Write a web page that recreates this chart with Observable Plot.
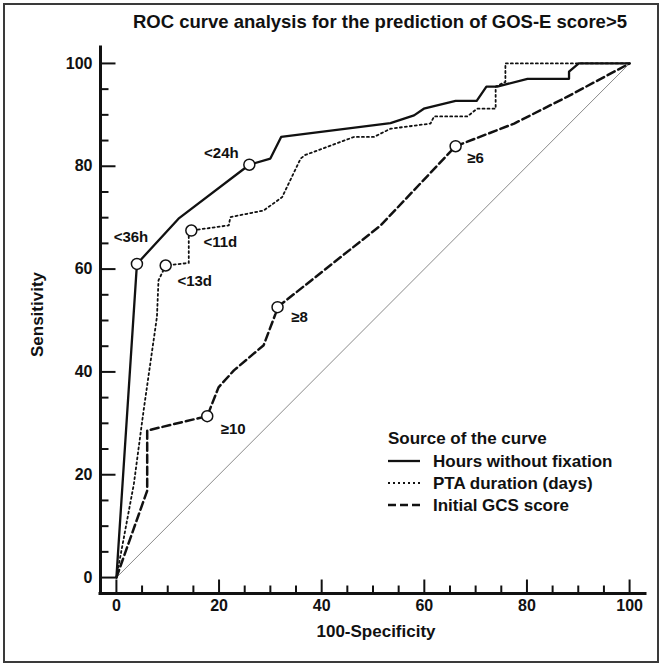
<!DOCTYPE html>
<html>
<head>
<meta charset="utf-8">
<script src="https://cdn.jsdelivr.net/npm/d3@7"></script>
<script src="https://cdn.jsdelivr.net/npm/@observablehq/plot@0.6"></script>
<style>
  html, body { margin: 0; padding: 0; background: #fff; }
  #chart { width: 661px; height: 665px; }
</style>
</head>
<body>
<div id="chart"></div>
<script>
// ---- data ----
const titleText = "ROC curve analysis for the prediction of GOS-E score>5";
const xLabel = "100-Specificity";
const yLabel = "Sensitivity";
const legendTitle = "Source of the curve";
const seriesNames = ["Hours without fixation", "PTA duration (days)", "Initial GCS score"];

const xTicks = [0, 20, 40, 60, 80, 100];
const yTicks = [0, 20, 40, 60, 80, 100];
const xTickLabels = ["0", "20", "40", "60", "80", "100"];
const yTickLabels = ["0", "20", "40", "60", "80", "100"];
const minorTicks = [5, 10, 15, 25, 30, 35, 45, 50, 55, 65, 70, 75, 85, 90, 95];

const hoursX = [0, 4.0, 12.1, 25.9, 30.0, 32.1, 53.4, 58.0, 59.9, 66.1, 70.2, 72.1, 74.2, 80.1, 88.2, 88.2, 90.1, 100];
const hoursY = [0, 61.0, 69.8, 80.3, 81.5, 85.7, 88.4, 89.9, 91.2, 92.7, 92.7, 95.5, 95.5, 97.0, 97.0, 98.4, 100, 100];

const ptaX = [0, 3.4, 5.3, 7.9, 8.2, 9.6, 14.1, 14.1, 14.6, 21.9, 22.2, 28.7, 32.3, 35.9, 36.8, 46.3, 50.2, 53.4, 61.2, 61.9, 68.4, 70.3, 73.9, 73.9, 75.8, 75.8, 100];
const ptaY = [0, 18.2, 32.5, 50.7, 57.8, 60.7, 61.2, 66.9, 67.5, 68.5, 70.1, 71.4, 74.0, 81.5, 82.2, 85.7, 85.7, 87.3, 88.3, 89.7, 89.7, 91.2, 91.2, 95.5, 96.4, 100, 100];

const gcsX = [0, 6.0, 6.0, 17.7, 19.9, 22.9, 28.7, 31.0, 31.4, 51.5, 66.1, 77.5, 87.8, 100];
const gcsY = [0, 16.9, 28.6, 31.4, 37.0, 40.3, 45.2, 51.3, 52.6, 68.5, 83.9, 88.3, 93.5, 100];

const refX = [0, 100];
const refY = [0, 100];

const cutX = [4.0, 25.9, 9.6, 14.6, 17.7, 31.4, 66.1];
const cutY = [61.0, 80.3, 60.7, 67.5, 31.4, 52.6, 83.9];
const cutLabels = ["<36h", "<24h", "<13d", "<11d", "\u226510", "\u22658", "\u22656"];

// ---- layout / style ----
const W = 661, H = 665, mL = 100, mR = 16, mT = 47, mB = 72;
const xmin = -3.1, xmax = 103.1, ymin = -3.1, ymax = 103.1;
const kx = (W - mL - mR) / (xmax - xmin);
const ky = (H - mT - mB) / (ymax - ymin);
const FONT = "'Liberation Sans', Arial, Helvetica, sans-serif";
const labelOffsets = [[-6, -27], [-28, -12], [29, 16], [29, 12], [26, 13], [22, 10], [20, 11.5]];

const toRows = (xs, ys) => xs.map((x, i) => ({x, y: ys[i]}));
const hours = toRows(hoursX, hoursY);
const pta = toRows(ptaX, ptaY);
const gcs = toRows(gcsX, gcsY);
const ref = toRows(refX, refY);
const cuts = cutX.map((x, i) => ({x, y: cutY[i], label: cutLabels[i]}));

const styles = [
  {stroke: "#111", strokeWidth: 2.3},
  {stroke: "#111", strokeWidth: 1.8, strokeDasharray: "2,3"},
  {stroke: "#111", strokeWidth: 2.5, strokeDasharray: "8,4"}
];

const chart = Plot.plot({
  width: W, height: H,
  marginLeft: mL, marginRight: mR, marginTop: mT, marginBottom: mB,
  x: {domain: [xmin, xmax], axis: null},
  y: {domain: [ymin, ymax], axis: null},
  style: {fontFamily: FONT, background: "#fff", color: "#111"},
  marks: [
    Plot.line(ref, {x: "x", y: "y", stroke: "#8a8a8a", strokeWidth: 1}),
    Plot.line(gcs, {x: "x", y: "y", ...styles[2]}),
    Plot.line(pta, {x: "x", y: "y", ...styles[1]}),
    Plot.line(hours, {x: "x", y: "y", ...styles[0]}),
    Plot.dot(cuts, {x: "x", y: "y", r: 5.5, fill: "white", stroke: "#111", strokeWidth: 1.5}),
    ...cuts.map((c, i) => Plot.text([c], {x: "x", y: "y", text: "label", dx: labelOffsets[i][0], dy: labelOffsets[i][1], fontSize: 15, fontWeight: "bold", fill: "#111"})),
    // axes
    Plot.link(xTicks, {x1: d => d, x2: d => d, y1: ymin, y2: ymin + 14 / ky, stroke: "#111", strokeWidth: 2}),
    Plot.link(minorTicks, {x1: d => d, x2: d => d, y1: ymin, y2: ymin + 8 / ky, stroke: "#111", strokeWidth: 2}),
    Plot.link(yTicks, {y1: d => d, y2: d => d, x1: xmin, x2: xmin + 15 / kx, stroke: "#111", strokeWidth: 2}),
    Plot.link(minorTicks, {y1: d => d, y2: d => d, x1: xmin, x2: xmin + 8 / kx, stroke: "#111", strokeWidth: 2}),
    Plot.ruleX([xmin], {y1: ymin, y2: ymax, stroke: "#111", strokeWidth: 3, strokeLinecap: "square"}),
    Plot.ruleY([ymin], {x1: xmin, x2: xmax, stroke: "#111", strokeWidth: 3, strokeLinecap: "square"}),
    Plot.text(xTicks, {x: d => d, text: (d, i) => xTickLabels[i], frameAnchor: "bottom", dy: 17, fontSize: 16, fontWeight: "bold", fill: "#111"}),
    Plot.text(yTicks, {y: d => d, text: (d, i) => yTickLabels[i], frameAnchor: "left", dx: -8, textAnchor: "end", fontSize: 16, fontWeight: "bold", fill: "#111"}),
    Plot.text([xLabel], {text: d => d, frameAnchor: "bottom", dx: 3, dy: 43, fontSize: 17, fontWeight: "bold", fill: "#111"}),
    Plot.text([yLabel], {text: d => d, frameAnchor: "left", textAnchor: "middle", dx: -63, dy: -6, rotate: -90, fontSize: 17, fontWeight: "bold", fill: "#111"}),
    Plot.text([titleText], {text: d => d, frameAnchor: "top", dx: 7, dy: -33, fontSize: 18.5, fontWeight: "bold", fill: "#111"})
  ]
});

// legend and outer frame
const svg = d3.select(chart);
svg.append("rect").attr("x", 4).attr("y", 4).attr("width", 654).attr("height", 658)
  .attr("fill", "none").attr("stroke", "#3a3a3a").attr("stroke-width", 2);
const lg = svg.append("g").attr("font-family", FONT).attr("font-weight", "bold").attr("font-size", 17)
  .attr("fill", "#111").attr("text-anchor", "start");
lg.append("text").attr("x", 388).attr("y", 444).text(legendTitle);
seriesNames.forEach((name, i) => {
  const cy = 461 + i * 22;
  const s = styles[i];
  lg.append("line").attr("x1", 388).attr("x2", 420).attr("y1", cy).attr("y2", cy)
    .attr("stroke", s.stroke).attr("stroke-width", s.strokeWidth)
    .attr("stroke-dasharray", s.strokeDasharray || null);
  lg.append("text").attr("x", 433).attr("y", cy + 6).text(name);
});

document.getElementById("chart").appendChild(chart);
</script>
</body>
</html>
